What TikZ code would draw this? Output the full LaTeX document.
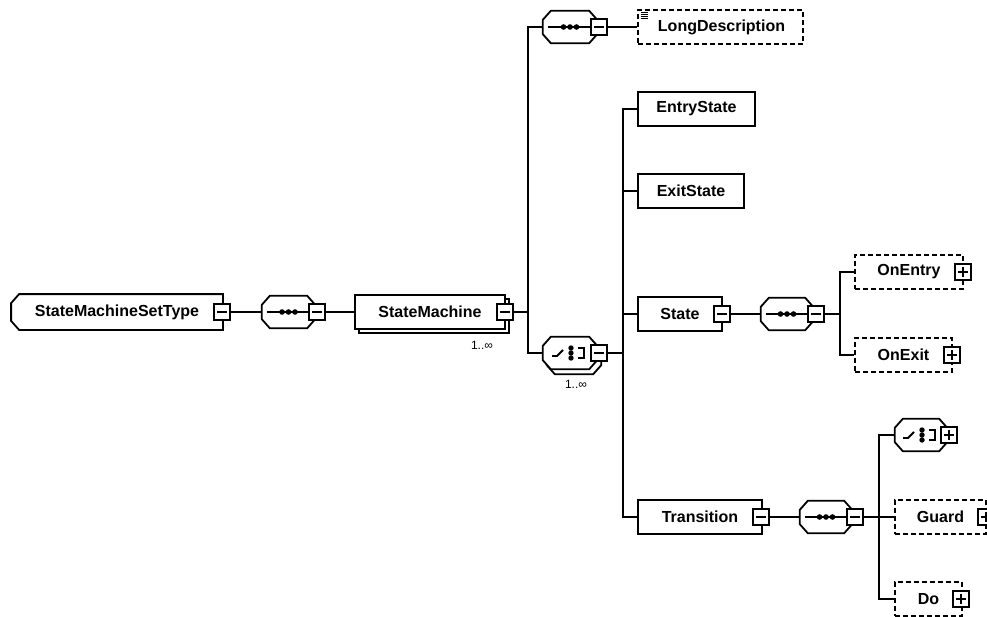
\documentclass[tikz,border=0pt]{standalone}
\usepackage{fontspec}
\setmainfont{Liberation Sans}
\usetikzlibrary{calc}

\tikzset{
  lw/.style={line width=1.8pt},
  elem/.style={draw, lw, fill=white, rectangle, inner sep=0pt,
    minimum height=34pt, font=\fontsize{16}{19}\selectfont\bfseries},
  optelem/.style={elem, dash pattern=on 5pt off 3pt},
  compositor/.style={rectangle, inner sep=0pt, minimum width=53pt, minimum height=32pt},
  pmbox/.style={draw, lw, fill=white, rectangle, minimum size=16pt, inner sep=0pt},
  minus/.style={pmbox, path picture={
    \draw[line width=1.5pt] ([xshift=3pt]path picture bounding box.west) --
      ([xshift=-3pt]path picture bounding box.east);}},
  plus/.style={pmbox, path picture={
    \draw[line width=1.5pt] ([xshift=3pt]path picture bounding box.west) --
      ([xshift=-3pt]path picture bounding box.east);
    \draw[line width=1.5pt] ([yshift=-3pt]path picture bounding box.north) --
      ([yshift=3pt]path picture bounding box.south);}},
  mult/.style={inner sep=0pt, font=\fontsize{12}{14}\selectfont},
}

% octagonal outline of a compositor node
\newcommand\octo[1]{%
  \draw[lw, fill=white] ($(#1.north west)+(8,0)$) -- ($(#1.north east)+(-8,0)$)
    -- ($(#1.north east)+(0,9)$) -- ($(#1.south east)+(0,-9)$)
    -- ($(#1.south east)+(-8,0)$) -- ($(#1.south west)+(8,0)$)
    -- ($(#1.south west)+(0,-9)$) -- ($(#1.north west)+(0,9)$) -- cycle;
}
% sequence compositor glyph: a line through three dots
\newcommand\seqglyph[2]{%
  \draw[lw] ($(#1.west)+(5,0)$) -- (#1.west -| #2.west);
  \foreach \dx in {-6.5,0,6.5} \fill ($(#1.center)+(\dx,0)$) circle (2.8pt);
}
% choice compositor glyph: a switch, stacked dots and a bracket
\newcommand\choiceglyph[2]{%
  \draw[lw] ($(#1.center)+(-18,3)$) -- ++(5,0) -- ++(6,-6);
  \foreach \dy in {-5,0,5} \fill ($(#1.center)+(1,\dy)$) circle (2.7pt);
  \draw[lw] ($(#1.center)+(8,-5)$) -- ++(6,0) -- ++(0,10) -- ++(-6,0);
  \draw[lw] ($(#1.center)+(8,0)$) -- ($(#1.center)+(8,0)$ -| #2.west);
}

\begin{document}
\begin{tikzpicture}[x=1pt, y=-1pt]
\useasboundingbox (0,0) rectangle (987,616);
\fill[white] (0,0) rectangle (987,616);
\clip (0,0) rectangle (987,616);

% root type, chamfered on its left side
\node[elem, draw=none, fill=none, minimum width=210pt] (root) at (117,312) {StateMachineSetType};
\draw[lw] ($(root.north west)+(8,0)$) -- (root.north east) -- (root.south east)
  -- ($(root.south west)+(8,0)$) -- ($(root.south west)+(0,-9)$)
  -- ($(root.north west)+(0,9)$) -- cycle;
\node[minus] (rootpm) at (222,312) {};

% outer sequence
\node[compositor] (seq1) at (288.5,312) {};
\octo{seq1}
\node[minus] (seq1pm) at (317,312) {};
\seqglyph{seq1}{seq1pm}

% StateMachine (repeated element)
\node[elem, minimum width=150pt] (smback) at (434,316) {};
\node[elem, minimum width=150pt] (sm) at (430,312) {StateMachine};
\node[minus] (smpm) at (505,312) {};
\node[mult] (smmult) at (482,345) {1..∞};

% documentation sequence
\node[compositor, minimum width=54pt] (seqtop) at (570,27) {};
\octo{seqtop}
\node[minus] (seqtoppm) at (599,27) {};
\seqglyph{seqtop}{seqtoppm}
\node[optelem, minimum width=165pt] (ld) at (720.5,27) {\hspace*{2pt}LongDescription};
\foreach \k in {0,2,4,6}
  \draw[line width=0.8pt] ($(ld.north west)+(4,3.5+\k)$) -- ++(7,0);

% repeated choice
\node[compositor, minimum width=54pt] (choice1back) at (574,358) {};
\node[compositor, minimum width=54pt] (choice1) at (570,353) {};
\octo{choice1back}
\octo{choice1}
\node[minus] (choice1pm) at (599,353) {};
\choiceglyph{choice1}{choice1pm}
\node[mult] (choice1mult) at (576,384) {1..∞};

% choice members
\node[elem, minimum width=117pt] (entry) at (696.5,109) {EntryState};
\node[elem, minimum width=106pt] (exit) at (691,191) {ExitState};
\node[elem, minimum width=84pt] (state) at (680,314) {State};
\node[minus] (statepm) at (722,314) {};
\node[elem, minimum width=124pt] (trans) at (700,517) {Transition};
\node[minus] (transpm) at (761,517) {};

% State content
\node[compositor, minimum width=52pt] (seqstate) at (787,314) {};
\octo{seqstate}
\node[minus] (seqstatepm) at (816,314) {};
\seqglyph{seqstate}{seqstatepm}
\node[optelem, minimum width=108pt] (onentry) at (909,272) {OnEntry};
\node[plus] (onentrypm) at (963,272) {};
\node[optelem, minimum width=97pt] (onexit) at (903.5,355) {OnExit};
\node[plus] (onexitpm) at (952,355) {};

% Transition content
\node[compositor, minimum width=52pt] (seqtr) at (826,517) {};
\octo{seqtr}
\node[minus] (seqtrpm) at (855,517) {};
\seqglyph{seqtr}{seqtrpm}
\node[compositor, minimum width=52pt] (choice2) at (921,435) {};
\octo{choice2}
\node[plus] (choice2pm) at (949,435) {};
\choiceglyph{choice2}{choice2pm}
\node[optelem, minimum width=91pt] (guard) at (940.5,517) {Guard};
\node[plus] (guardpm) at (986,517) {};
\node[optelem, minimum width=67pt] (do) at (928.5,599) {Do};
\node[plus] (dopm) at (961,599) {};

% junctions
\coordinate (j1) at (528,312);
\coordinate (j2) at (623,353);
\coordinate (j3) at (840,314);
\coordinate (j4) at (879,517);

% connectors
\draw[lw] (rootpm.east) -- (rootpm.east -| seq1.west);
\draw[lw] (seq1pm.east) -- (seq1pm.east -| sm.west);
\draw[lw] (smpm.east) -- (j1);
\draw[lw] (seqtop.west) -| (j1) |- (choice1.west);
\draw[lw] (seqtoppm.east) -- (seqtoppm.east -| ld.west);
\draw[lw] (choice1pm.east) -- (j2);
\draw[lw] (entry.west) -| (j2) |- (trans.west);
\draw[lw] (exit.west) -- (exit.west -| j2);
\draw[lw] (state.west) -- (state.west -| j2);
\draw[lw] (statepm.east) -- (statepm.east -| seqstate.west);
\draw[lw] (seqstatepm.east) -- (j3);
\draw[lw] (onentry.west) -| (j3) |- (onexit.west);
\draw[lw] (transpm.east) -- (transpm.east -| seqtr.west);
\draw[lw] (seqtrpm.east) -- (j4);
\draw[lw] (choice2.west) -| (j4) |- (do.west);
\draw[lw] (guard.west) -- (j4);
\end{tikzpicture}
\end{document}
